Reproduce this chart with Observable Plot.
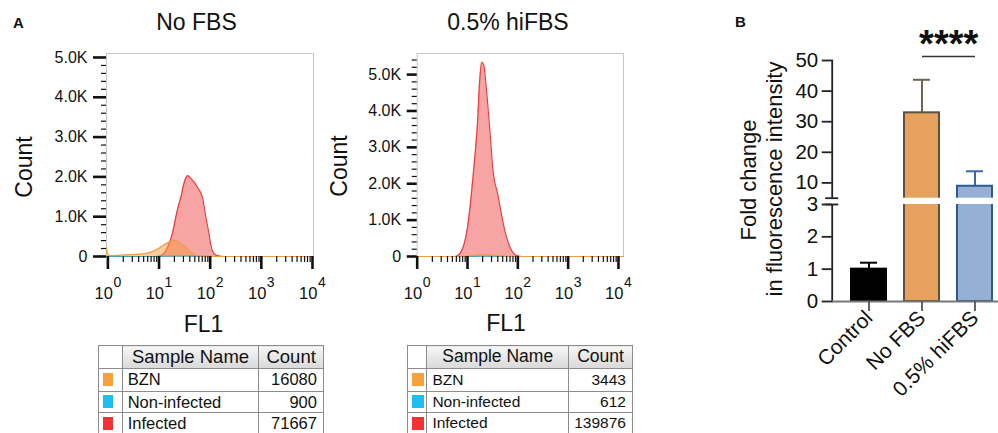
<!DOCTYPE html>
<html><head><meta charset="utf-8">
<script src="https://cdn.jsdelivr.net/npm/d3@7"></script>
<script src="https://cdn.jsdelivr.net/npm/@observablehq/plot@0.6"></script>
<style>
html,body{margin:0;padding:0;background:#fff;}
#fig{position:relative;width:998px;height:433px;overflow:hidden;background:#fff;font-family:"Liberation Sans",Arial,sans-serif;color:#111;}
.panel{position:absolute;top:0;}
.panel svg{overflow:visible;}
#overlay{position:absolute;left:0;top:0;pointer-events:none;}
table.flow{position:absolute;border-collapse:collapse;table-layout:fixed;font-family:"Liberation Sans",Arial,sans-serif;color:#111;border:1.5px solid #6a6a6a;}
table.flow td,table.flow th{border:1px solid #8c8c8c;padding:0;white-space:nowrap;overflow:hidden;font-weight:normal;line-height:1;}
table.flow th{background:linear-gradient(#f6f6f6,#d9d9d9);text-align:center;}
table.flow th.blank{background:#fff;}
table.flow td.name{text-align:left;padding-left:5px;}
table.flow td.count{text-align:right;padding-right:6px;}
table.flow td.sw span{display:block;margin-left:4px;}
</style></head>
<body>
<div id="fig">
  <div class="panel" id="histNoFbs" style="left:0px"></div>
  <div class="panel" id="histHiFbs" style="left:320px"></div>
  <div class="panel" id="barsB" style="left:700px"></div>
  <svg id="overlay" width="998" height="433" font-family="Liberation Sans, Arial, sans-serif" fill="#111">
    <text x="13" y="28" font-size="15" font-weight="bold">A</text>
    <text x="196.5" y="30" font-size="23" text-anchor="middle">No FBS</text>
    <text x="508" y="30" font-size="23" text-anchor="middle">0.5% hiFBS</text>
    <text transform="translate(32,167) rotate(-90)" font-size="23" text-anchor="middle">Count</text>
    <text transform="translate(347,166) rotate(-90)" font-size="23" text-anchor="middle">Count</text>
    <text x="203.5" y="331.5" font-size="23" text-anchor="middle">FL1</text>
    <text x="506" y="331" font-size="23" text-anchor="middle">FL1</text>
    <text x="735" y="27" font-size="15" font-weight="bold">B</text>
    <text transform="translate(756,180) rotate(-90)" font-size="22" text-anchor="middle">Fold change</text>
    <text transform="translate(782,179) rotate(-90)" font-size="22" text-anchor="middle">in fluorescence intensity</text>
  </svg>
</div>
<script>
// ---------------- data ----------------
// FL1 axis
const fl1Decades = [1, 10, 100, 1000, 10000];
const fl1DecadeExponents = ["0", "1", "2", "3", "4"];
const fl1Minor = [2, 3, 4, 5, 6, 7, 8, 9, 20, 30, 40, 50, 60, 70, 80, 90,
  200, 300, 400, 500, 600, 700, 800, 900, 2000, 3000, 4000, 5000, 6000, 7000, 8000, 9000];
// Count axis
const countMajor = [0, 1000, 2000, 3000, 4000, 5000];
const countMinorNoFbs = [200, 400, 600, 800, 1200, 1400, 1600, 1800, 2200, 2400, 2600, 2800,
  3200, 3400, 3600, 3800, 4200, 4400, 4600, 4800];
const countMinorHiFbs = [200, 400, 600, 800, 1200, 1400, 1600, 1800, 2200, 2400, 2600, 2800,
  3200, 3400, 3600, 3800, 4200, 4400, 4600, 4800, 5200, 5400];

// Histogram: No FBS  (log10 FL1, count)
const noFbsInfectedLog = [-0.03, 0.95, 1.05, 1.15, 1.22, 1.28, 1.33, 1.38, 1.43, 1.48, 1.53, 1.56, 1.60, 1.65, 1.70, 1.75, 1.81, 1.85, 1.91, 1.975, 2.04, 2.12, 2.25, 4.02];
const noFbsInfectedCount = [0, 0, 30, 180, 400, 680, 1000, 1280, 1500, 1800, 1990, 2030, 1990, 1920, 1850, 1740, 1615, 1480, 1030, 580, 150, 30, 0, 0];
const noFbsBznLog = [-0.03, -0.01, 0.03, 0.15, 0.35, 0.5, 0.65, 0.8, 0.92, 1.03, 1.15, 1.22, 1.29, 1.37, 1.45, 1.52, 1.6, 1.68, 1.75, 1.85, 4.02];
const noFbsBznCount = [230, 80, 20, 25, 40, 50, 60, 90, 150, 235, 330, 375, 400, 370, 300, 235, 130, 55, 20, 0, 0];
const noFbsNonInfLog = [-0.03, 0.9, 1.1, 1.35, 1.6, 1.85, 2.1, 4.02];
const noFbsNonInfCount = [0, 0, 8, 15, 14, 6, 0, 0];

// Histogram: 0.5% hiFBS
const hiFbsInfectedLog = [0, 0.75, 0.82, 0.88, 0.94, 1.0, 1.05, 1.1, 1.15, 1.2, 1.24, 1.285, 1.325, 1.36, 1.39, 1.43, 1.46, 1.5, 1.54, 1.59, 1.64, 1.69, 1.74, 1.79, 1.85, 1.92, 2.0, 2.08, 4.1];
const hiFbsInfectedCount = [0, 0, 40, 150, 380, 800, 1350, 2050, 2800, 3700, 4800, 5340, 5250, 4830, 4380, 3700, 3190, 2450, 2050, 1780, 1420, 1050, 720, 470, 240, 80, 15, 0, 0];
const hiFbsBznLog = [0, 0.9, 1.05, 1.2, 1.35, 1.5, 1.7, 1.85, 4.1];
const hiFbsBznCount = [0, 0, 20, 40, 45, 35, 12, 0, 0];
const hiFbsNonInfLog = [0, 1.0, 1.2, 1.4, 1.6, 1.8, 4.1];
const hiFbsNonInfCount = [0, 0, 8, 10, 5, 0, 0];

// Tables
const sampleNames = ["BZN", "Non-infected", "Infected"];
const countsNoFbs = [16080, 900, 71667];
const countsHiFbs = [3443, 612, 139876];

// Panel B
const groups = ["Control", "No FBS", "0.5% hiFBS"];
const meanFold = [1.0, 32.9, 8.9];
const sdFold = [0.2, 10.8, 4.9];
const yTicksB = [0, 1, 2, 3, 10, 20, 30, 40, 50];
const axisBreak = [3, 5];
const sigLevel = 51.3;
const sigLabel = "****";

// ---------------- styles ----------------
const sampleColor = {"BZN": "#f7a03e", "Non-infected": "#1dbdf0", "Infected": "#f03434"};
const barFill = {"Control": "#000000", "No FBS": "#e6a25c", "0.5% hiFBS": "#95b0d4"};
const barEdge = {"Control": "#000000", "No FBS": "#5e5140", "0.5% hiFBS": "#2e5b8f"};
const errColor = {"Control": "#000000", "No FBS": "#6e6252", "0.5% hiFBS": "#3d68a5"};
const FONT = "Liberation Sans, Arial, sans-serif";

function rows(logs, counts) { return logs.map((l, i) => ({fl1: 10 ** l, count: counts[i]})); }

function histogram({inf, bzn, non, xDomain, yDomain, minorY, marginLeft, marginRight, majorSize, minorSize}) {
  const xy = {x: "fl1", y: "count", curve: "monotone-x"};
  return Plot.plot({
    width: 320, height: 300, marginTop: 53, marginBottom: 44, marginLeft, marginRight,
    style: {fontFamily: FONT, fontSize: "16px", color: "#111", background: "transparent", overflow: "visible"},
    x: {type: "log", domain: xDomain, label: null},
    y: {domain: yDomain, label: null},
    marks: [
      Plot.frame({stroke: "#c6c6c6"}),
      Plot.areaY(inf, {...xy, fill: "#f7a4a4"}),
      Plot.lineY(inf, {...xy, stroke: "#ee3b3b", strokeWidth: 1.2}),
      Plot.lineY(non, {...xy, stroke: "#3aa6b6", strokeWidth: 1.2}),
      Plot.areaY(bzn, {...xy, fill: "#f59a3e", fillOpacity: 0.5}),
      Plot.lineY(bzn, {...xy, stroke: "#f39a45", strokeWidth: 1.2}),
      Plot.axisX({ticks: fl1Minor, tickSize: 6, tickFormat: () => "", stroke: "#111", strokeWidth: 1.2}),
      Plot.axisX({ticks: fl1Decades, tickSize: 13, tickFormat: () => "", stroke: "#111", strokeWidth: 2.6}),
      Plot.text(fl1Decades, {x: d => d, frameAnchor: "bottom", text: () => "10", textAnchor: "end", lineAnchor: "bottom", dx: 5, dy: 42, fontSize: 16.5}),
      Plot.text(fl1Decades, {x: d => d, frameAnchor: "bottom", text: (d, i) => fl1DecadeExponents[i], textAnchor: "start", lineAnchor: "bottom", dx: 5.5, dy: 30.5, fontSize: 14}),
      Plot.axisY({ticks: minorY, tickSize: minorSize, tickFormat: () => "", stroke: "#111", strokeWidth: 1.2}),
      Plot.axisY({ticks: countMajor, tickSize: majorSize, tickPadding: 6, stroke: "#111", strokeWidth: 2.6, fontSize: 16,
        tickFormat: d => d === 0 ? "0" : (d / 1000).toFixed(1) + "K"})
    ]
  });
}

document.getElementById("histNoFbs").append(histogram({
  inf: rows(noFbsInfectedLog, noFbsInfectedCount),
  bzn: rows(noFbsBznLog, noFbsBznCount),
  non: rows(noFbsNonInfLog, noFbsNonInfCount),
  xDomain: [10 ** -0.027, 10 ** 4.02], yDomain: [0, 5100], minorY: countMinorNoFbs,
  marginLeft: 106, marginRight: 7, majorSize: 13, minorSize: 5
}));
document.getElementById("histHiFbs").append(histogram({
  inf: rows(hiFbsInfectedLog, hiFbsInfectedCount),
  bzn: rows(hiFbsBznLog, hiFbsBznCount),
  non: rows(hiFbsNonInfLog, hiFbsNonInfCount),
  xDomain: [1, 10 ** 4.1], yDomain: [0, 5580], minorY: countMinorHiFbs,
  marginLeft: 96.7, marginRight: 17, majorSize: 10, minorSize: 5
}));

// ---------------- tables ----------------
function flowTable(counts, left, cols, headFont, rowFont, swW) {
  const t = document.createElement("table");
  t.className = "flow";
  t.style.left = left + "px"; t.style.top = "345px";
  t.style.width = (cols[0] + cols[1] + cols[2]) + "px";
  const cg = document.createElement("colgroup");
  cols.forEach(w => { const c = document.createElement("col"); c.style.width = w + "px"; cg.append(c); });
  t.append(cg);
  const head = document.createElement("tr"); head.style.height = "22.7px";
  head.innerHTML = `<th class="blank"></th><th style="font-size:${headFont}px">Sample Name</th><th style="font-size:${headFont}px">Count</th>`;
  t.append(head);
  const hts = [23, 21.3, 21.3];
  sampleNames.forEach((name, i) => {
    const tr = document.createElement("tr"); tr.style.height = hts[i] + "px";
    tr.innerHTML = `<td class="sw"><span style="width:${swW}px;height:13px;background:${sampleColor[name]}"></span></td>` +
      `<td class="name" style="font-size:${rowFont}px">${name}</td><td class="count" style="font-size:${rowFont}px">${counts[i]}</td>`;
    t.append(tr);
  });
  document.getElementById("fig").append(t);
}
flowTable(countsNoFbs, 98, [23.7, 136.6, 64.7], 18.5, 16.5, 10);
flowTable(countsHiFbs, 407, [19.4, 141.6, 64], 17.5, 15.5, 12);

// ---------------- panel B ----------------
const barRows = groups.map((g, i) => ({group: g, mean: meanFold[i], upper: meanFold[i] + sdFold[i]}));
const barPlot = Plot.plot({
  width: 298, height: 433, marginLeft: 131.7, marginRight: 0, marginTop: 60, marginBottom: 132,
  style: {fontFamily: FONT, fontSize: "20px", color: "#111", background: "transparent", overflow: "visible"},
  x: {type: "band", domain: groups, paddingInner: 0.343, paddingOuter: 0.2315, align: 0.74, label: null},
  y: {type: "linear", domain: [0, 3, 5, 50], range: [301, 204, 197.7, 60], label: null},
  marks: [
    Plot.ruleX(barRows, {x: "group", y1: "mean", y2: "upper", stroke: d => errColor[d.group], strokeWidth: 2}),
    Plot.tickY(barRows, {x: "group", y: "upper", stroke: d => errColor[d.group], strokeWidth: 2, inset: 9}),
    Plot.barY(barRows, {x: "group", y: "mean", fill: d => barFill[d.group], stroke: d => barEdge[d.group], strokeWidth: 2}),
    Plot.frame({anchor: "left", stroke: "#222", strokeWidth: 1.8}),
    Plot.rectY([axisBreak], {y1: d => d[0], y2: d => d[1], fill: "white", insetLeft: -5}),
    Plot.ruleY([0], {stroke: "#777", strokeWidth: 2}),
    Plot.axisY({ticks: yTicksB, tickSize: 10, tickPadding: 4, stroke: "#222", strokeWidth: 1.8, fontSize: 20.5}),
    Plot.axisY({ticks: axisBreak, tickSize: 13, dx: 6.5, tickFormat: () => "", stroke: "#222", strokeWidth: 1.8}),
    Plot.axisX({tickSize: 10, tickRotate: -45, tickPadding: 3, stroke: "#555", strokeWidth: 1.8, fontSize: 21}),
    Plot.link([sigLevel], {x1: () => groups[1], x2: () => groups[2], y1: d => d, y2: d => d, stroke: "#333", strokeWidth: 1.3}),
    Plot.text([sigLabel], {x: () => groups[1], y: () => sigLevel, dx: 26.7, dy: 0, text: d => d, fontSize: 38, fontWeight: "bold", lineAnchor: "bottom", textAnchor: "middle", fill: "#111"})
  ]
});
document.getElementById("barsB").append(barPlot);
</script>
</body></html>
